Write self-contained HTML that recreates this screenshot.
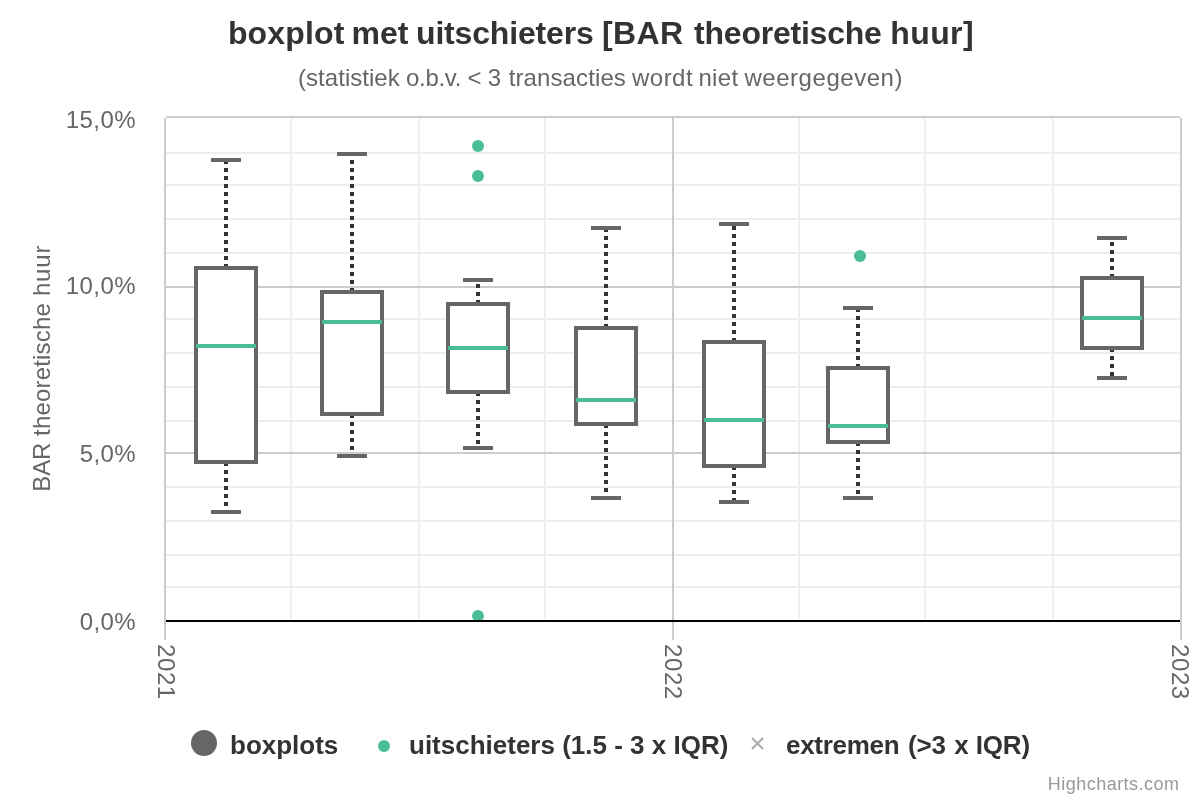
<!DOCTYPE html>
<html><head><meta charset="utf-8"><title>boxplot</title>
<style>
html,body{margin:0;padding:0;background:#fff;}
body{width:1200px;height:800px;overflow:hidden;font-family:"Liberation Sans",sans-serif;}
svg{display:block;will-change:transform;font-family:"Liberation Sans",sans-serif;}
</style></head><body>
<svg width="1200" height="800" viewBox="0 0 1200 800">
<rect x="0" y="0" width="1200" height="800" fill="#ffffff"/>

<g shape-rendering="crispEdges">
<rect x="290" y="118" width="2" height="501" fill="#eeeeee"/>
<rect x="418" y="118" width="2" height="501" fill="#eeeeee"/>
<rect x="544" y="118" width="2" height="501" fill="#eeeeee"/>
<rect x="798" y="118" width="2" height="501" fill="#eeeeee"/>
<rect x="924" y="118" width="2" height="501" fill="#eeeeee"/>
<rect x="1052" y="118" width="2" height="501" fill="#eeeeee"/>
<rect x="166" y="152" width="1014" height="2" fill="#eeeeee"/>
<rect x="166" y="184" width="1014" height="2" fill="#eeeeee"/>
<rect x="166" y="218" width="1014" height="2" fill="#eeeeee"/>
<rect x="166" y="252" width="1014" height="2" fill="#eeeeee"/>
<rect x="166" y="318" width="1014" height="2" fill="#eeeeee"/>
<rect x="166" y="352" width="1014" height="2" fill="#eeeeee"/>
<rect x="166" y="386" width="1014" height="2" fill="#eeeeee"/>
<rect x="166" y="420" width="1014" height="2" fill="#eeeeee"/>
<rect x="166" y="486" width="1014" height="2" fill="#eeeeee"/>
<rect x="166" y="520" width="1014" height="2" fill="#eeeeee"/>
<rect x="166" y="554" width="1014" height="2" fill="#eeeeee"/>
<rect x="166" y="586" width="1014" height="2" fill="#eeeeee"/>
<rect x="164" y="118" width="2" height="522" fill="#cccccc"/>
<rect x="672" y="118" width="2" height="522" fill="#cccccc"/>
<rect x="1180" y="118" width="2" height="522" fill="#cccccc"/>
<rect x="166" y="116" width="1014" height="2" fill="#cccccc"/>
<rect x="166" y="286" width="1014" height="2" fill="#cccccc"/>
<rect x="166" y="452" width="1014" height="2" fill="#cccccc"/>
</g>
<g>
<path d="M226 268L226 160" stroke="#333333" stroke-width="4" stroke-dasharray="4,4" fill="none"/>
<path d="M226 462L226 512" stroke="#333333" stroke-width="4" stroke-dasharray="4,4" fill="none"/>
<rect x="196" y="268" width="60" height="194" fill="#ffffff" stroke="#666666" stroke-width="4"/>
<rect x="211" y="158" width="30" height="4" fill="#666666"/>
<rect x="211" y="510" width="30" height="4" fill="#666666"/>
<rect x="196" y="344" width="60" height="4" fill="#4bbd97"/>
<path d="M352 292L352 154" stroke="#333333" stroke-width="4" stroke-dasharray="4,4" fill="none"/>
<path d="M352 414L352 456" stroke="#333333" stroke-width="4" stroke-dasharray="4,4" fill="none"/>
<rect x="322" y="292" width="60" height="122" fill="#ffffff" stroke="#666666" stroke-width="4"/>
<rect x="337" y="152" width="30" height="4" fill="#666666"/>
<rect x="337" y="454" width="30" height="4" fill="#666666"/>
<rect x="322" y="320" width="60" height="4" fill="#4bbd97"/>
<path d="M478 304L478 280" stroke="#333333" stroke-width="4" stroke-dasharray="4,4" fill="none"/>
<path d="M478 392L478 448" stroke="#333333" stroke-width="4" stroke-dasharray="4,4" fill="none"/>
<rect x="448" y="304" width="60" height="88" fill="#ffffff" stroke="#666666" stroke-width="4"/>
<rect x="463" y="278" width="30" height="4" fill="#666666"/>
<rect x="463" y="446" width="30" height="4" fill="#666666"/>
<rect x="448" y="346" width="60" height="4" fill="#4bbd97"/>
<path d="M606 328L606 228" stroke="#333333" stroke-width="4" stroke-dasharray="4,4" fill="none"/>
<path d="M606 424L606 498" stroke="#333333" stroke-width="4" stroke-dasharray="4,4" fill="none"/>
<rect x="576" y="328" width="60" height="96" fill="#ffffff" stroke="#666666" stroke-width="4"/>
<rect x="591" y="226" width="30" height="4" fill="#666666"/>
<rect x="591" y="496" width="30" height="4" fill="#666666"/>
<rect x="576" y="398" width="60" height="4" fill="#4bbd97"/>
<path d="M734 342L734 224" stroke="#333333" stroke-width="4" stroke-dasharray="4,4" fill="none"/>
<path d="M734 466L734 502" stroke="#333333" stroke-width="4" stroke-dasharray="4,4" fill="none"/>
<rect x="704" y="342" width="60" height="124" fill="#ffffff" stroke="#666666" stroke-width="4"/>
<rect x="719" y="222" width="30" height="4" fill="#666666"/>
<rect x="719" y="500" width="30" height="4" fill="#666666"/>
<rect x="704" y="418" width="60" height="4" fill="#4bbd97"/>
<path d="M858 368L858 308" stroke="#333333" stroke-width="4" stroke-dasharray="4,4" fill="none"/>
<path d="M858 442L858 498" stroke="#333333" stroke-width="4" stroke-dasharray="4,4" fill="none"/>
<rect x="828" y="368" width="60" height="74" fill="#ffffff" stroke="#666666" stroke-width="4"/>
<rect x="843" y="306" width="30" height="4" fill="#666666"/>
<rect x="843" y="496" width="30" height="4" fill="#666666"/>
<rect x="828" y="424" width="60" height="4" fill="#4bbd97"/>
<path d="M1112 278L1112 238" stroke="#333333" stroke-width="4" stroke-dasharray="4,4" fill="none"/>
<path d="M1112 348L1112 378" stroke="#333333" stroke-width="4" stroke-dasharray="4,4" fill="none"/>
<rect x="1082" y="278" width="60" height="70" fill="#ffffff" stroke="#666666" stroke-width="4"/>
<rect x="1097" y="236" width="30" height="4" fill="#666666"/>
<rect x="1097" y="376" width="30" height="4" fill="#666666"/>
<rect x="1082" y="316" width="60" height="4" fill="#4bbd97"/>
</g>
<circle cx="478" cy="146" r="6" fill="#4bbd97"/>
<circle cx="478" cy="176" r="6" fill="#4bbd97"/>
<circle cx="478" cy="616" r="6" fill="#4bbd97"/>
<circle cx="860" cy="256" r="6" fill="#4bbd97"/>
<rect x="166" y="620" width="1014" height="2" fill="#000000" shape-rendering="crispEdges"/>
<g font-size="32" font-weight="bold" fill="#333333">
<text x="227.89" y="44" letter-spacing="0.161">boxplot</text>
<text x="351.49" y="44" letter-spacing="-0.003">met</text>
<text x="416.02" y="44" letter-spacing="-0.166">uitschieters</text>
<text x="601.95" y="44" letter-spacing="0.406">[BAR</text>
<text x="694.11" y="44" letter-spacing="-0.232">theoretische</text>
<text x="890.27" y="44" letter-spacing="0.383">huur]</text>
</g>
<g font-size="24" fill="#666666">
<text x="298.01" y="86" letter-spacing="0.04">(statistiek</text>
<text x="405.99" y="86" letter-spacing="-0.3">o.b.v.</text>
<text x="467.42" y="86" letter-spacing="0">&lt;</text>
<text x="487.69" y="86" letter-spacing="0">3</text>
<text x="508.64" y="86" letter-spacing="0.118">transacties</text>
<text x="632.04" y="86" letter-spacing="0.463">wordt</text>
<text x="698.41" y="86" letter-spacing="0.358">niet</text>
<text x="744.44" y="86" letter-spacing="0.541">weergegeven)</text>
</g>
<text x="65.67" y="128" letter-spacing="0.483" font-size="24" fill="#666666">15,0%</text>
<text x="65.67" y="294" letter-spacing="0.483" font-size="24" fill="#666666">10,0%</text>
<text x="79.74" y="462" letter-spacing="0.404" font-size="24" fill="#666666">5,0%</text>
<text x="79.76" y="630" letter-spacing="0.397" font-size="24" fill="#666666">0,0%</text>
<g transform="translate(50,0) rotate(-90)" font-size="24" fill="#666666">
<text x="-491.72" y="0" letter-spacing="-0.133">BAR</text>
<text x="-435.96" y="0" letter-spacing="0.189">theoretische</text>
<text x="-296.06" y="0" letter-spacing="0.809">huur</text>
</g>
<text transform="translate(157.8,644) rotate(90)" textLength="55.2" lengthAdjust="spacing" font-size="24" fill="#666666">2021</text>
<text transform="translate(664.9,644) rotate(90)" textLength="55.2" lengthAdjust="spacing" font-size="24" fill="#666666">2022</text>
<text transform="translate(1171.8,644) rotate(90)" textLength="55.2" lengthAdjust="spacing" font-size="24" fill="#666666">2023</text>
<circle cx="204" cy="743" r="13" fill="#666666"/>
<text x="230" y="753.8" font-size="26" font-weight="bold" fill="#333333">boxplots</text>
<circle cx="384" cy="746" r="6" fill="#4bbd97"/>
<text x="409" y="753.8" font-size="26" font-weight="bold" fill="#333333">uitschieters (1.5 - 3 x IQR)</text>
<path d="M752 738L763 749M763 738L752 749" stroke="#aaaaaa" stroke-width="2" fill="none"/>
<g font-size="26" font-weight="bold" fill="#333333">
<text x="785.98" y="753.8" letter-spacing="-0.284">extremen</text>
<text x="907.96" y="753.8" letter-spacing="-0.159">(&gt;3</text>
<text x="954.32" y="753.8" letter-spacing="0">x</text>
<text x="975.76" y="753.8" letter-spacing="-0.199">IQR)</text>
</g>
<text x="1047.8" y="790" textLength="131.2" lengthAdjust="spacing" font-size="18" fill="#999999">Highcharts.com</text>
</svg></body></html>
